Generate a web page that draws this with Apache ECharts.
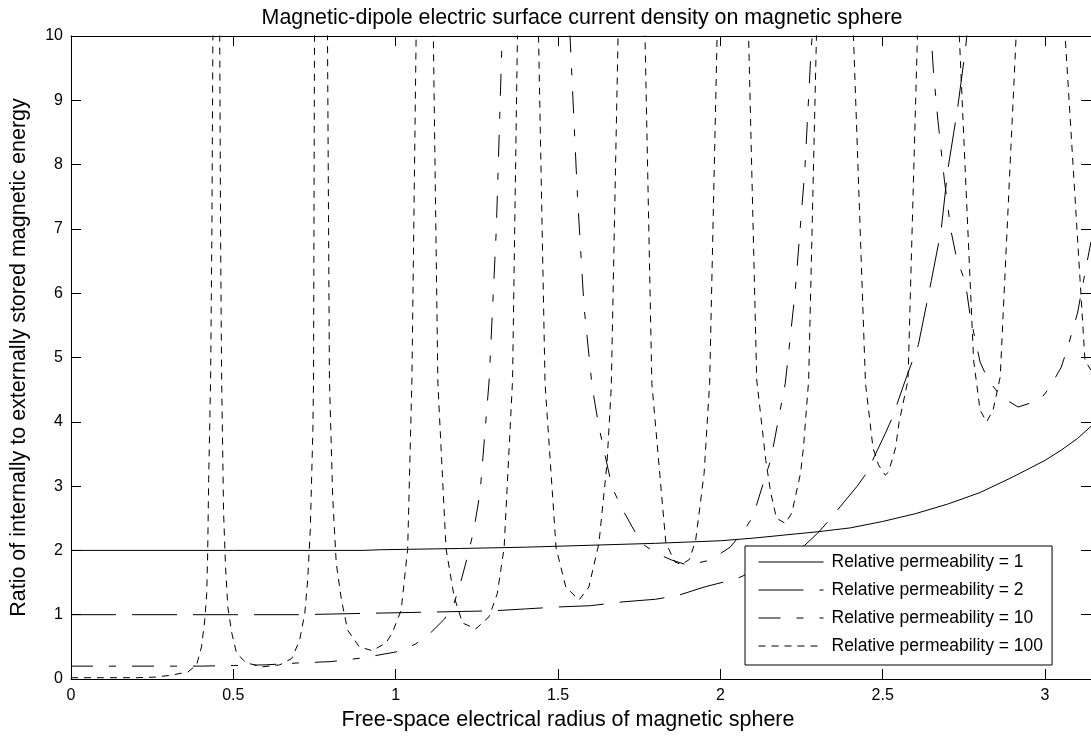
<!DOCTYPE html>
<html>
<head>
<meta charset="utf-8">
<title>Magnetic-dipole electric surface current density on magnetic sphere</title>
<script src="https://cdn.jsdelivr.net/npm/echarts@6/dist/echarts.min.js"></script>
<style>
html, body { margin: 0; padding: 0; background: #fff; }
#chart { width: 1091px; height: 737px; }
</style>
</head>
<body>
<div id="chart"></div>
<script>
// values, [ka, ratio]; points above 10 are off-scale guesses
var seriesNames = ['Relative permeability = 1', 'Relative permeability = 2',
                   'Relative permeability = 10', 'Relative permeability = 100'];

var mu1 = [[0,2],[0.5,2],[0.9,2],[0.95,2.01],[1.2,2.03],[1.4,2.05],[1.6,2.08],[1.8,2.11],
  [2.0,2.15],[2.1,2.19],[2.2,2.24],[2.3,2.29],[2.4,2.35],[2.5,2.45],[2.6,2.57],[2.7,2.72],
  [2.8,2.9],[2.9,3.14],[3.0,3.4],[3.05,3.56],[3.1,3.74],[3.1416,3.93]];

var mu2 = [[0,1],[0.5,1],[0.7,1.0],[0.9,1.02],[1.1,1.04],[1.3,1.06],[1.4,1.09],[1.5,1.12],
  [1.6,1.14],[1.7,1.2],[1.8,1.24],[1.87,1.3],[1.95,1.43],[2.05,1.56],[2.15,1.78],[2.26,2.08],
  [2.3,2.27],[2.33,2.44],[2.42,2.99],[2.45,3.2],[2.51,3.84],[2.53,4.07],[2.57,4.65],[2.61,5.2],
  [2.65,6.2],[2.68,6.98],[2.7,7.9],[2.73,8.85],[2.755,9.8],[2.8,12],[2.9,16],[3.0,20],[3.1416,22]];

var mu10 = [[0,0.2],[0.4,0.2],[0.5,0.21],[0.6,0.22],[0.7,0.25],[0.8,0.27],[0.9,0.33],
  [1.0,0.42],[1.06,0.54],[1.1,0.68],[1.15,0.93],[1.18,1.18],[1.2,1.5],[1.22,1.88],[1.24,2.3],
  [1.26,2.9],[1.288,4.65],[1.31,7],[1.328,10],[1.43,20],[1.537,10],[1.56,7.5],[1.58,5.8],
  [1.605,4.55],[1.626,3.92],[1.666,2.99],[1.694,2.68],[1.728,2.37],[1.758,2.11],[1.8,1.96],
  [1.85,1.85],[1.9,1.77],[1.97,1.85],[2.03,2.05],[2.07,2.29],[2.1,2.52],[2.14,3.17],
  [2.155,3.4],[2.2,4.6],[2.23,6.0],[2.26,7.9],[2.28,9.83],[2.44,18],[2.65,9.97],[2.656,9.47],
  [2.67,8.69],[2.69,7.76],[2.71,6.98],[2.727,6.56],[2.755,6.16],[2.77,5.63],[2.8,4.93],
  [2.825,4.65],[2.865,4.39],[2.917,4.23],[2.985,4.34],[3.015,4.54],[3.05,4.85],[3.07,5.16],
  [3.1,5.69],[3.13,6.5],[3.1416,6.8]];

var mu100 = [[0,0.02],[0.1,0.02],[0.2,0.02],[0.26,0.03],[0.31,0.06],[0.36,0.11],[0.387,0.22],
  [0.402,0.5],[0.412,0.92],[0.418,1.33],[0.421,1.96],[0.424,3.1],[0.43,4.65],[0.434,7],
  [0.437,10],[0.448,40],[0.458,10],[0.461,6.7],[0.464,4.65],[0.47,2.58],[0.476,1.74],
  [0.483,1.12],[0.495,0.72],[0.51,0.4],[0.54,0.25],[0.59,0.19],[0.643,0.22],[0.68,0.32],
  [0.704,0.6],[0.72,1.02],[0.729,1.54],[0.737,2.32],[0.745,3.87],[0.747,4.65],[0.75,10],
  [0.77,40],[0.79,10],[0.796,4.65],[0.806,2.83],[0.817,1.8],[0.833,1.23],[0.852,0.76],
  [0.888,0.5],[0.928,0.44],[0.97,0.56],[0.99,0.72],[1.005,0.92],[1.017,1.07],[1.037,2.03],
  [1.05,4.65],[1.063,10],[1.09,40],[1.116,10],[1.13,4.6],[1.155,2.03],[1.18,1.28],
  [1.206,0.87],[1.247,0.78],[1.288,0.97],[1.313,1.33],[1.334,2.04],[1.36,4.65],[1.375,10],
  [1.41,40],[1.44,10],[1.46,4.6],[1.494,2.04],[1.524,1.43],[1.565,1.23],[1.595,1.43],
  [1.626,2.11],[1.651,3.36],[1.664,4.54],[1.685,10],[1.725,40],[1.768,10],[1.789,4.6],
  [1.832,2.12],[1.86,1.82],[1.88,1.78],[1.905,1.86],[1.924,2.16],[1.95,3.2],[1.967,4.6],
  [1.99,10],[2.04,40],[2.087,10],[2.112,4.65],[2.14,3.4],[2.155,2.9],[2.173,2.5],[2.2,2.42],
  [2.22,2.58],[2.247,3.2],[2.256,3.6],[2.272,4.65],[2.296,10],[2.35,40],[2.41,10],
  [2.447,4.6],[2.47,3.6],[2.487,3.33],[2.508,3.17],[2.518,3.22],[2.54,3.6],[2.55,3.98],
  [2.578,4.65],[2.607,10],[2.67,40],[2.736,10],[2.78,4.96],[2.8,4.18],[2.82,4.0],[2.84,4.18],
  [2.862,4.7],[2.911,10],[2.98,40],[3.062,10],[3.123,4.96],[3.1416,4.8]];

var xTickValues = [0, 0.5, 1, 1.5, 2, 2.5, 3];
var yTickValues = [0, 1, 2, 3, 4, 5, 6, 7, 8, 9, 10];

var chart = echarts.init(document.getElementById('chart'));
var font = '"Liberation Sans", Arial, Helvetica, sans-serif';
var xMax = 3.1416;

function lineSeries(name, data, dash) {
  return {
    name: name,
    type: 'line',
    data: data,
    symbol: 'none',
    showSymbol: false,
    clip: true,
    animation: false,
    color: '#000',
    itemStyle: { color: '#000' },
    lineStyle: { color: '#000', width: 1, type: dash }
  };
}

// plain box axis: black line, inward ticks, no labels
function boxAxis(extra) {
  var a = {
    type: 'value',
    axisLine: { show: true, onZero: false, lineStyle: { color: '#000', width: 1 } },
    axisTick: { show: true, inside: true, length: 10, lineStyle: { color: '#000' } },
    splitLine: { show: false },
    axisLabel: { show: false }
  };
  for (var k in extra) a[k] = extra[k];
  return a;
}

var option = {
  backgroundColor: '#fff',
  animation: false,
  title: {
    text: 'Magnetic-dipole electric surface current density on magnetic sphere',
    left: 577,
    textAlign: 'center',
    top: 3,
    textStyle: { fontFamily: font, fontSize: 21.4, fontWeight: 'normal', color: '#000' }
  },
  grid: { left: 71, top: 36, right: -2, bottom: 58 },
  legend: {
    orient: 'vertical',
    left: 745,
    top: 546,
    padding: [7, 9, 10, 13],
    itemGap: 10,
    itemWidth: 65,
    itemHeight: 14,
    borderColor: '#000',
    borderWidth: 1,
    borderRadius: 0,
    backgroundColor: '#fff',
    itemStyle: { opacity: 0, borderWidth: 0 },
    lineStyle: { width: 1, color: '#000' },
    data: seriesNames,
    textStyle: { fontFamily: font, fontSize: 17.5, color: '#000', padding: [0, 0, 0, 3] }
  },
  xAxis: [
    boxAxis({
      position: 'bottom', min: 0, max: xMax, interval: 0.5,
      name: 'Free-space electrical radius of magnetic sphere',
      nameLocation: 'middle', nameGap: 28,
      nameTextStyle: { fontFamily: font, fontSize: 21.5, color: '#000', padding: [0, 26, 0, 0] },
      axisLabel: {
        show: true, margin: 9, color: '#000', fontFamily: font, fontSize: 16,
        showMaxLabel: false,
        formatter: function (v) { return xTickValues.indexOf(v) >= 0 ? String(v) : ''; }
      }
    }),
    boxAxis({ position: 'top', min: 0, max: xMax, interval: 0.5 })
  ],
  yAxis: [
    boxAxis({
      position: 'left', min: 0, max: 10, interval: 1,
      name: 'Ratio of internally to externally stored magnetic energy',
      nameLocation: 'middle', nameGap: 41,
      nameTextStyle: { fontFamily: font, fontSize: 21.5, color: '#000' },
      axisLabel: {
        show: true, margin: 8, color: '#000', fontFamily: font, fontSize: 16,
        formatter: function (v) { return yTickValues.indexOf(v) >= 0 ? String(v) : ''; }
      }
    }),
    boxAxis({ position: 'right', min: 0, max: 10, interval: 1 })
  ],
  series: [
    lineSeries(seriesNames[0], mu1, 'solid'),
    lineSeries(seriesNames[1], mu2, [45, 16]),
    lineSeries(seriesNames[2], mu10, [22, 16, 7, 16]),
    lineSeries(seriesNames[3], mu100, [7, 6])
  ]
};

chart.setOption(option);
</script>
</body>
</html>
